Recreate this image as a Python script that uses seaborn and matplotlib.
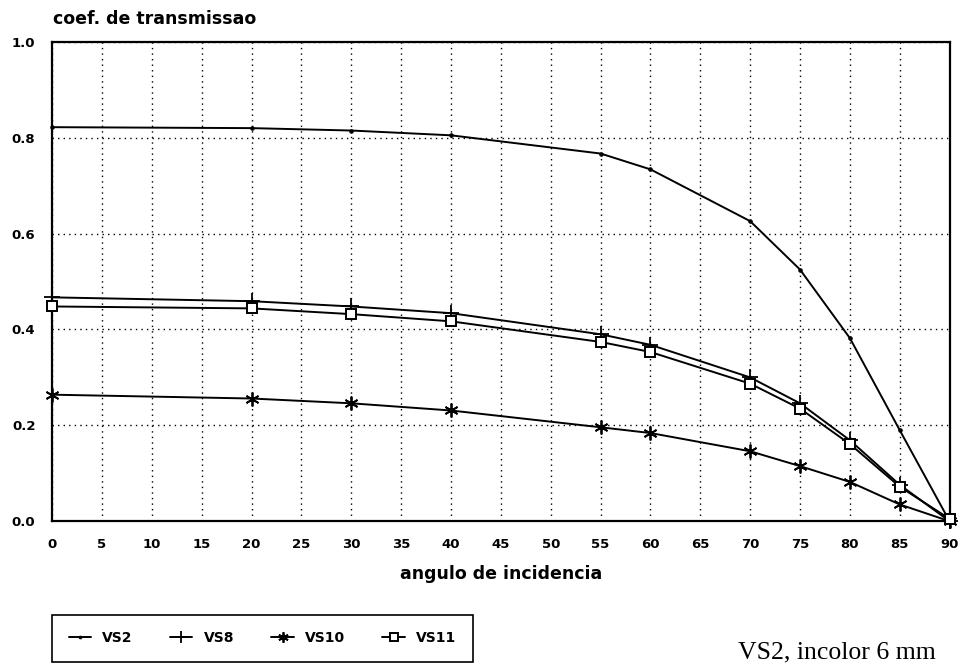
import numpy as np
import pandas as pd
import seaborn as sns
import matplotlib
matplotlib.use("Agg")
import matplotlib.pyplot as plt

ANGLES = [0, 20, 30, 40, 55, 60, 70, 75, 80, 85, 90]
VS2 = [0.822, 0.820, 0.815, 0.805, 0.767, 0.734, 0.626, 0.525, 0.382, 0.190, 0.0]
VS8 = [0.467, 0.459, 0.448, 0.434, 0.390, 0.368, 0.300, 0.246, 0.169, 0.076, 0.0]
VS10 = [0.264, 0.256, 0.246, 0.231, 0.196, 0.184, 0.146, 0.115, 0.082, 0.035, 0.0]
VS11 = [0.448, 0.444, 0.432, 0.417, 0.374, 0.353, 0.287, 0.235, 0.161, 0.072, 0.005]
X_TICKS = list(range(0, 95, 5))
Y_TICKS = [0.0, 0.2, 0.4, 0.6, 0.8, 1.0]

sns.set_style("white")
plt.rcParams['font.family'] = ['DejaVu Sans']
plt.rcParams['text.color'] = 'black'
plt.rcParams['axes.labelcolor'] = 'black'
plt.rcParams['xtick.color'] = 'black'
plt.rcParams['ytick.color'] = 'black'

fig = plt.figure(figsize=(9.66, 6.64), dpi=100)
ax = fig.add_axes([0.054, 0.215, 0.929, 0.722])

styles = {
    "VS2": dict(marker='o', markersize=2.5, markerfacecolor='black'),
    "VS8": dict(marker='+', markersize=11, markeredgewidth=1.3),
    "VS10": dict(marker=(6, 2, 0), markersize=10, markeredgewidth=1.3),
    "VS11": dict(marker='s', markersize=7, markerfacecolor='white', markeredgewidth=1.4),
}
series = {"VS2": VS2, "VS8": VS8, "VS10": VS10, "VS11": VS11}

for name, vals in series.items():
    df = pd.DataFrame({"angle": ANGLES, "coef": vals})
    sns.lineplot(data=df, x="angle", y="coef", ax=ax, color='black', linewidth=1.4,
                 markeredgecolor='black', label=name, clip_on=False, zorder=3, **styles[name])

ax.set_xlim(0, 90)
ax.set_ylim(0, 1.0)
ax.set_xticks(X_TICKS)
ax.set_yticks(Y_TICKS)
ax.set_xticklabels([str(t) for t in X_TICKS], fontsize=9.5, fontweight='bold')
ax.set_yticklabels([f"{t:.1f}" for t in Y_TICKS], fontsize=9.5, fontweight='bold')
ax.tick_params(axis='both', direction='out', length=6, width=1.2, color='black', pad=6)
ax.grid(True, linestyle=(0, (1, 3)), linewidth=1.0, color='black')
for sp in ax.spines.values():
    sp.set_color('black')
    sp.set_linewidth(1.6)

ax.set_xlabel("angulo de incidencia", fontsize=12.5, fontweight='bold', labelpad=10)
ax.set_ylabel("")
fig.text(0.055, 0.972, "coef. de transmissao", fontsize=12.5, fontweight='bold', ha='left', va='center')

ax.get_legend().remove()
handles, labels = ax.get_legend_handles_labels()
leg = fig.legend(handles, labels, loc='lower left', bbox_to_anchor=(0.054, 0.003), ncol=4,
                 frameon=True, fancybox=False, edgecolor='black', framealpha=1,
                 prop={'weight': 'bold', 'size': 10}, handlelength=1.6, columnspacing=2.7,
                 borderpad=1.2, handletextpad=0.8, borderaxespad=0, markerscale=0.75)
leg.get_frame().set_linewidth(1.2)

fig.text(0.764, 0.018, "VS2, incolor 6 mm", fontsize=18.5, family='Liberation Serif', ha='left', va='center')

fig.savefig("out.png", dpi=100)
